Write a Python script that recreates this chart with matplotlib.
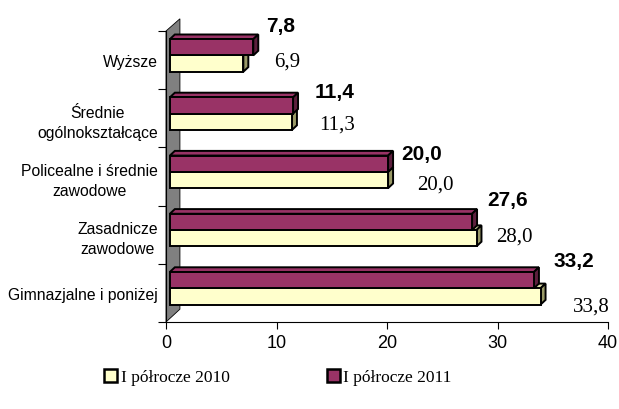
import numpy as np
import matplotlib
matplotlib.use("Agg")
import matplotlib.pyplot as plt
from matplotlib.patches import Polygon, Rectangle, Patch

plt.rcParams['font.family'] = ['Liberation Sans', 'DejaVu Sans']

# data, bottom to top
categories = ["Gimnazjalne i poniżej", "Zasadnicze\nzawodowe",
              "Policealne i średnie\nzawodowe", "Średnie\nogólnokształcące", "Wyższe"]
vals_2010 = [33.8, 28.0, 20.0, 11.3, 6.9]
vals_2011 = [33.2, 27.6, 20.0, 11.4, 7.8]
series_names = ["I półrocze 2010", "I półrocze 2011"]

# label placement tweaks (x offset, y offset from category centre)
lab10_off = [(3.0, -0.22), (1.9, -0.03), (2.7, -0.13), (2.6, -0.10), (2.9, -0.02)]
lab11_off = [(1.85, 0.55), (1.5, 0.61), (1.3, 0.39), (2.06, 0.46), (1.3, 0.59)]

yel, yel_top, yel_side = "#FFFFCC", "#DDDDAA", "#999966"
mar, mar_top, mar_side = "#993366", "#993366", "#5C1F3D"

dx, dy = 0.45, 0.08   # 3d depth of bars
x_start = 0.35


def bar3d(ax, x1, y0, y1, front, top, side):
    x0 = x_start
    kw = dict(ec="black", lw=1.4, joinstyle="miter", zorder=3)
    ax.add_patch(Polygon([(x0, y1), (x0 + dx, y1 + dy), (x1 + dx, y1 + dy), (x1, y1)],
                         fc=top, **kw))
    ax.add_patch(Polygon([(x1, y0), (x1, y1), (x1 + dx, y1 + dy), (x1 + dx, y0 + dy)],
                         fc=side, **kw))
    ax.add_patch(Rectangle((x0, y0), x1 - x0, y1 - y0, fc=front, **kw))


fig = plt.figure(figsize=(6.19, 4.10), dpi=100)
ax = fig.add_axes([166 / 619, 87 / 410, 442 / 619, 291 / 410])
ax.set_xlim(0, 40)
ax.set_ylim(0, 5)

# grey back wall
ax.add_patch(Polygon([(0, 0), (1.26, 0.22), (1.26, 5.21), (0, 5)], closed=True,
                     fc="#808080", ec="black", lw=0.6, clip_on=False, zorder=1))

for i in range(len(categories)):
    c = i + 0.5
    bar3d(ax, vals_2010[i] + 0.1, c - 0.2, c + 0.08, yel, yel_top, yel_side)
    bar3d(ax, vals_2011[i] + 0.1, c + 0.08, c + 0.36, mar, mar_top, mar_side)
    ox, oy = lab10_off[i]
    ax.text(vals_2010[i] + ox, c + oy, f"{vals_2010[i]:.1f}".replace(".", ","),
            family="Liberation Serif", fontsize=15, va="center", ha="left")
    ox, oy = lab11_off[i]
    ax.text(vals_2011[i] + ox, c + oy, f"{vals_2011[i]:.1f}".replace(".", ","),
            fontsize=15, fontweight="bold", va="center", ha="left")

ax.set_xticks(np.arange(0, 41, 10))
ax.tick_params(axis="x", labelsize=13, length=5, width=0.8, direction="out", pad=4)
ax.set_yticks(np.arange(0, 6))
ax.set_yticklabels([])
ax.tick_params(axis="y", which="major", length=6, width=0.8, direction="out")
ax.set_yticks(np.arange(len(categories)) + 0.5, minor=True)
ax.set_yticklabels(categories, minor=True, fontsize=11.3, multialignment="center",
                   linespacing=1.4)
ax.tick_params(axis="y", which="minor", length=0, pad=6)

for s in ["top", "right"]:
    ax.spines[s].set_visible(False)
ax.spines["left"].set_linewidth(0.8)
ax.spines["bottom"].set_linewidth(0.8)

handles = [Patch(fc=yel, ec="black", lw=1.8), Patch(fc=mar, ec="black", lw=1.8)]
fig.legend(handles, series_names, loc="center", bbox_to_anchor=(0.449, 0.078), ncol=2,
           frameon=False, prop={"family": "Liberation Serif", "size": 12.5},
           handlelength=0.75, handleheight=0.75, handletextpad=0.2, columnspacing=5.6)

fig.savefig("out.png", dpi=100)
